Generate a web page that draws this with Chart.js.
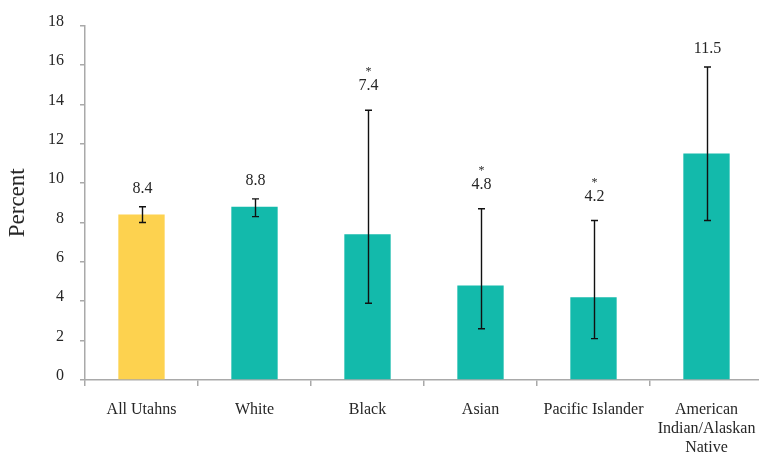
<!DOCTYPE html>
<html>
<head>
<meta charset="utf-8">
<script src="https://cdn.jsdelivr.net/npm/chart.js@4/dist/chart.umd.min.js"></script>
<style>
  html, body { margin: 0; padding: 0; background: #fff; overflow: hidden; }
  #wrap { width: 759px; height: 454px; overflow: hidden; }
  #wrap canvas { display: block; }
</style>
</head>
<body>
<div id="wrap"><canvas id="rateChart" width="770" height="454"></canvas></div>
<script>
// Rates by race, with 95% confidence limits
const groups = ['All Utahns', 'White', 'Black', 'Asian', 'Pacific Islander', ['American', 'Indian/Alaskan', 'Native']];
const rates = [8.4, 8.8, 7.4, 4.8, 4.2, 11.5];
const lowerCI = [8.0, 8.3, 3.9, 2.6, 2.1, 8.1];
const upperCI = [8.8, 9.2, 13.7, 8.7, 8.1, 15.9];
// estimates flagged as unstable get an asterisk
const unstable = [false, false, true, true, true, false];
const yTicks = [0, 2, 4, 6, 8, 10, 12, 14, 16, 18];

const barColors = rates.map((_, i) => i === 0 ? '#FDD24F' : '#13BAAB');
const axisGray = '#A9A9A9';
const textColor = '#262626';
const serif = "'Liberation Serif', 'DejaVu Serif', serif";

// Error bars plus value labels above them
const errorBarPlugin = {
  id: 'errorBars',
  afterDatasetsDraw(chart) {
    const ctx = chart.ctx;
    const meta = chart.getDatasetMeta(0);
    const y = chart.scales.y;
    ctx.save();
    meta.data.forEach((bar, i) => {
      const x = Math.round(bar.x) + 0.5;
      const top = y.getPixelForValue(upperCI[i]);
      const bottom = y.getPixelForValue(lowerCI[i]);
      ctx.strokeStyle = '#111';
      ctx.lineWidth = 1.4;
      ctx.beginPath();
      ctx.moveTo(x, top);
      ctx.lineTo(x, bottom);
      ctx.moveTo(x - 3.5, top);
      ctx.lineTo(x + 3.5, top);
      ctx.moveTo(x - 3.5, bottom);
      ctx.lineTo(x + 3.5, bottom);
      ctx.stroke();

      ctx.fillStyle = textColor;
      ctx.textAlign = 'center';
      ctx.textBaseline = 'middle';
      ctx.font = '16px ' + serif;
      const labelY = top - (unstable[i] ? 24 : 18);
      ctx.fillText(rates[i].toFixed(1), x, labelY);
      if (unstable[i]) {
        ctx.font = '12px ' + serif;
        ctx.fillText('*', x, labelY - 14);
      }
    });
    ctx.restore();
  }
};

new Chart(document.getElementById('rateChart'), {
  type: 'bar',
  data: {
    labels: groups,
    datasets: [{
      data: rates,
      backgroundColor: barColors,
      borderWidth: 0,
      barPercentage: 0.41,
      categoryPercentage: 1.0
    }]
  },
  options: {
    responsive: false,
    animation: false,
    layout: { padding: { top: 23, right: 7, left: 0, bottom: 0 } },
    plugins: {
      legend: { display: false },
      tooltip: { enabled: false }
    },
    scales: {
      x: {
        afterFit: s => { s.height = 74; },
        border: { color: axisGray, width: 1.5 },
        grid: { offset: true, drawOnChartArea: false, drawTicks: true, tickLength: 6, color: axisGray, lineWidth: 1.5 },
        ticks: { color: textColor, font: { family: serif, size: 16 }, padding: 14, maxRotation: 0, autoSkip: false }
      },
      y: {
        min: 0,
        max: 18,
        afterFit: s => { s.width = 85; },
        afterBuildTicks: s => { s.ticks = yTicks.map(v => ({ value: v })); },
        border: { color: axisGray, width: 1.5 },
        grid: { drawOnChartArea: false, drawTicks: true, tickLength: 5, color: axisGray, lineWidth: 1.5 },
        ticks: { color: textColor, font: { family: serif, size: 16 }, padding: 16, labelOffset: -4 },
        title: { display: true, text: 'Percent', color: textColor, font: { family: serif, size: 23 }, padding: { top: 4, bottom: 0 } }
      }
    }
  },
  plugins: [errorBarPlugin]
});
</script>
</body>
</html>
